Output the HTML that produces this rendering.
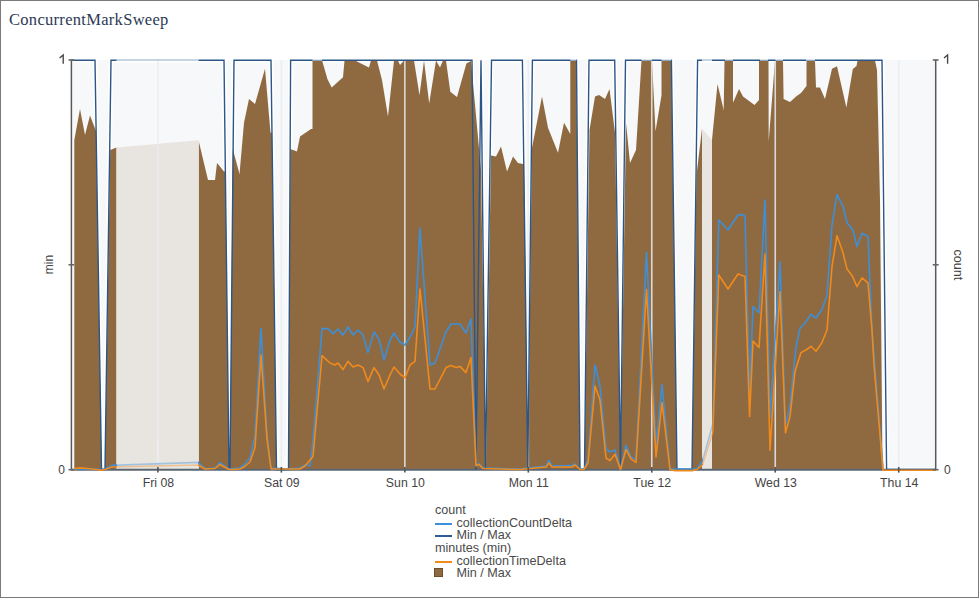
<!DOCTYPE html>
<html><head><meta charset="utf-8">
<style>
html,body{margin:0;padding:0;background:#fff;}
body{width:979px;height:598px;overflow:hidden;position:relative;}
#frame{position:absolute;left:0;top:0;width:977px;height:596px;border:1px solid #7a7a7a;}
#title{position:absolute;left:9px;top:9.5px;font-family:"Liberation Serif",serif;font-size:16.5px;letter-spacing:0.3px;color:#2b3a55;white-space:nowrap;}
svg{position:absolute;left:0;top:0;}
.ax{font-family:"Liberation Sans",sans-serif;font-size:12px;fill:#444;}
#legend{position:absolute;left:435px;top:504px;font-family:"Liberation Sans",sans-serif;font-size:12.6px;line-height:12.65px;color:#4a4a4a;white-space:nowrap;}
#legend .r{position:relative;height:12.65px;}
#legend .ind{padding-left:21.5px;}
#legend .sw{position:absolute;left:0;top:6px;width:17px;height:2px;}
#legend .sq{position:absolute;left:-1px;top:1px;width:7px;height:7px;background:#8f6a41;border:1px solid #6b4d2c;}
</style></head><body>
<div id="frame"></div>
<div id="title">ConcurrentMarkSweep</div>
<svg width="979" height="598" viewBox="0 0 979 598">
<rect x="72" y="60" width="864" height="409.5" fill="#f7f8fa"/>
<polyline points="72.0,60.2 95.0,60.2 101.5,469.5 105.0,469.5 111.0,60.2 224.0,60.2 229.0,469.5 230.0,469.5 234.0,60.2 271.0,60.2 276.5,469.5 288.5,469.5 290.6,60.2 472.0,60.2 476.0,469.5 481.0,60.2 485.5,469.5 491.5,60.2 522.4,60.2 527.8,469.5 532.4,60.2 576.5,60.2 580.0,469.5 584.5,469.5 589.0,60.2 614.7,60.2 620.5,469.5 625.5,60.2 671.4,60.2 677.0,469.5 692.0,469.5 697.6,60.2 882.0,60.2 886.6,469.5 935.0,469.5" fill="none" stroke="#fff" stroke-width="4.5" stroke-linejoin="miter"/>
<path d="M74.3,469.5 L74.3,140.0 L80.0,109.0 L85.0,135.0 L90.0,115.5 L96.0,131.0 L101.5,469.5 Z M105.0,469.5 L110.2,150.0 L116.5,147.5 L116.5,469.5 Z M198.7,469.5 L198.7,141.0 L208.0,180.0 L215.0,180.0 L217.0,163.0 L224.0,171.6 L225.4,171.6 L229.0,469.5 Z M230.0,469.5 L232.8,149.0 L239.5,174.0 L244.0,122.7 L249.0,99.0 L255.0,104.0 L265.0,68.8 L270.5,132.8 L271.9,132.8 L276.5,469.5 Z M288.5,469.5 L290.4,149.0 L297.0,151.6 L300.0,136.5 L311.0,129.0 L312.5,129.0 L312.5,60.5 L322.1,60.5 L327.5,79.2 L331.7,87.6 L343.0,77.2 L344.5,60.5 L355.0,60.5 L369.0,67.5 L371.0,60.5 L377.0,60.5 L382.0,80.0 L388.0,116.5 L394.0,60.5 L398.0,60.5 L400.0,65.0 L404.0,60.5 L414.0,60.5 L419.5,95.2 L424.0,60.5 L429.2,103.5 L436.0,60.5 L440.0,67.5 L443.0,60.5 L446.0,60.5 L450.3,91.8 L457.0,96.9 L466.4,63.4 L471.0,61.0 L481.0,170.0 L486.0,469.5 Z M486.0,469.5 L491.0,155.4 L496.0,156.6 L501.0,146.6 L507.0,171.6 L513.0,156.6 L518.0,162.9 L523.0,164.0 L524.0,164.0 L528.0,469.5 Z M528.0,469.5 L532.0,147.8 L542.0,96.4 L548.0,127.8 L558.0,152.8 L564.0,122.7 L570.3,134.0 L570.3,60.5 L576.3,60.5 L580.0,469.5 Z M584.5,469.5 L589.5,130.0 L595.0,96.4 L599.0,95.0 L605.0,99.0 L609.5,89.0 L615.0,132.8 L620.5,469.5 Z M620.5,469.5 L626.0,122.7 L630.0,163.0 L636.0,150.0 L641.5,60.5 L652.0,60.5 L655.5,131.3 L661.5,95.2 L661.5,60.5 L671.2,60.5 L677.0,469.5 Z M692.0,469.5 L696.5,175.0 L702.0,128.7 L702.0,469.5 Z M712.0,469.5 L712.0,140.0 L717.5,84.0 L723.7,110.0 L724.5,60.5 L733.0,60.5 L733.0,102.7 L739.0,89.0 L743.0,96.4 L754.5,105.0 L759.0,100.0 L759.0,60.5 L768.5,60.5 L768.7,141.5 L775.0,60.5 L783.0,60.5 L783.6,99.0 L790.0,102.0 L796.4,96.3 L801.0,93.0 L806.5,86.0 L806.5,60.5 L815.0,60.5 L816.0,87.6 L820.0,87.6 L825.0,99.0 L832.0,68.8 L837.0,66.3 L846.4,107.5 L852.8,69.0 L856.5,66.0 L857.5,60.5 L875.0,60.5 L877.0,70.0 L880.0,200.0 L882.5,469.5 Z" fill="#8f6a41"/>
<path d="M116.5,469.5 L116.5,147.5 L198.7,140.3 L198.7,469.5 Z M702.0,469.5 L702.0,128.7 L712.0,140.0 L712.0,469.5 Z" fill="#e8e5e1"/>
<line x1="157.9" y1="60" x2="157.9" y2="469.5" stroke="rgba(233,236,241,0.85)" stroke-width="1.6"/>
<line x1="281.37" y1="60" x2="281.37" y2="469.5" stroke="rgba(233,236,241,0.85)" stroke-width="1.6"/>
<line x1="404.84" y1="60" x2="404.84" y2="469.5" stroke="rgba(233,236,241,0.85)" stroke-width="1.6"/>
<line x1="528.31" y1="60" x2="528.31" y2="469.5" stroke="rgba(233,236,241,0.85)" stroke-width="1.6"/>
<line x1="651.78" y1="60" x2="651.78" y2="469.5" stroke="rgba(233,236,241,0.85)" stroke-width="1.6"/>
<line x1="775.25" y1="60" x2="775.25" y2="469.5" stroke="rgba(233,236,241,0.85)" stroke-width="1.6"/>
<line x1="898.72" y1="60" x2="898.72" y2="469.5" stroke="rgba(233,236,241,0.85)" stroke-width="1.6"/>
<line x1="71" y1="469.7" x2="936" y2="469.7" stroke="#5b6673" stroke-width="2"/>
<polyline points="72.0,60.2 95.0,60.2 101.5,469.5 105.0,469.5 111.0,60.2 224.0,60.2 229.0,469.5 230.0,469.5 234.0,60.2 271.0,60.2 276.5,469.5 288.5,469.5 290.6,60.2 472.0,60.2 476.0,469.5 481.0,60.2 485.5,469.5 491.5,60.2 522.4,60.2 527.8,469.5 532.4,60.2 576.5,60.2 580.0,469.5 584.5,469.5 589.0,60.2 614.7,60.2 620.5,469.5 625.5,60.2 671.4,60.2 677.0,469.5 692.0,469.5 697.6,60.2 882.0,60.2 886.6,469.5 935.0,469.5" fill="none" stroke="#2b5687" stroke-width="1.4" stroke-linejoin="miter"/>
<polyline points="74.0,469.0 80.0,468.6 90.0,469.0 101.5,469.5 105.0,469.0 112.0,465.4 198.0,462.4 205.0,468.7 215.0,468.0 220.0,462.7 228.0,468.5 230.0,469.0 240.0,468.0 244.0,465.0 250.0,458.0 255.0,435.5 261.0,328.6 267.0,435.5 271.0,468.0 288.0,469.0 300.0,468.0 305.0,465.0 310.0,465.7 313.0,441.6 322.0,328.6 328.0,328.6 333.0,333.7 338.0,329.0 343.0,335.0 348.0,327.0 353.0,335.0 358.0,330.0 363.0,335.0 368.0,352.6 374.0,332.0 379.0,339.0 384.0,360.0 390.0,340.0 394.0,333.0 400.0,342.0 405.0,345.0 410.0,337.0 415.0,327.0 420.0,228.0 430.0,365.0 435.0,363.0 446.0,332.0 451.0,324.0 460.0,324.0 466.0,333.0 471.0,319.0 476.0,466.0 479.0,463.5 483.0,468.0 520.0,469.0 546.0,466.0 549.0,460.3 552.0,466.0 572.0,465.6 575.0,464.0 580.0,469.0 584.0,469.0 588.0,460.3 595.0,365.0 600.0,386.4 606.0,449.0 610.0,451.8 615.0,450.0 620.5,469.0 626.0,445.4 631.0,457.0 636.0,459.5 646.5,252.6 656.0,445.0 662.0,384.3 670.0,469.0 697.0,469.0 702.7,460.5 712.8,424.0 718.8,220.0 728.0,230.0 738.0,215.0 743.0,214.6 745.0,216.3 749.6,395.0 753.0,306.5 759.0,312.8 765.0,200.0 770.0,417.7 780.0,261.6 785.5,425.4 790.0,405.3 796.0,347.6 800.0,328.0 805.0,323.0 811.0,314.3 816.0,318.0 822.0,309.2 827.0,295.4 832.0,225.2 837.0,194.6 843.0,206.3 847.0,222.7 853.0,230.2 857.0,246.5 862.0,233.2 868.0,236.5 872.0,330.6 875.0,367.6 883.0,469.0" fill="none" stroke="#3d8fd9" stroke-width="1.6" stroke-linejoin="round"/>
<polyline points="74.0,468.6 80.0,467.9 90.0,468.7 101.5,470.3 105.0,469.5 112.0,467.0 198.0,465.0 205.0,469.0 215.0,468.5 220.0,464.5 228.0,469.0 230.0,469.5 240.0,469.0 244.0,467.0 250.0,462.0 255.0,447.6 261.0,355.0 267.0,438.6 271.0,469.0 300.0,469.0 305.0,466.0 313.0,456.6 322.0,355.7 330.0,363.0 335.0,365.0 338.0,363.0 343.0,369.6 348.0,361.4 353.0,367.0 358.0,365.0 363.0,367.6 368.0,381.4 374.0,367.6 379.0,375.0 384.0,389.0 390.0,375.0 394.0,367.0 400.0,374.0 405.0,377.7 410.0,365.0 415.0,361.4 420.0,289.0 430.0,389.0 435.0,389.0 446.0,367.6 451.0,365.6 456.0,367.6 460.0,366.4 466.0,372.6 471.0,357.6 476.0,465.4 479.0,464.5 483.0,468.5 520.0,469.5 546.0,467.0 549.0,463.0 552.0,467.0 572.0,467.0 575.0,465.0 580.0,469.5 584.0,469.5 588.0,463.0 595.0,386.0 600.0,400.0 606.0,458.0 610.0,460.6 615.0,454.2 620.5,469.5 626.0,449.5 631.0,458.9 636.0,462.4 646.5,289.6 656.0,457.0 662.0,402.6 670.0,469.5 675.0,470.6 692.0,470.6 697.0,469.5 702.7,464.5 712.8,432.0 718.8,275.0 728.0,289.0 738.0,274.0 745.0,276.5 749.6,416.5 753.0,341.0 759.0,347.5 765.0,254.0 770.0,450.3 780.0,291.5 785.5,432.9 790.0,416.6 795.0,371.4 801.0,352.6 806.0,350.0 811.0,346.3 816.0,351.3 822.0,342.5 827.0,330.0 832.0,266.6 837.0,235.7 843.0,252.8 847.0,269.0 852.0,275.4 857.0,286.6 862.0,277.9 868.0,282.9 872.0,330.0 874.0,365.0 883.0,470.2 935.0,470.2" fill="none" stroke="#f08a1c" stroke-width="1.6" stroke-linejoin="round"/>
<rect x="117" y="440" width="40" height="28" fill="#e8e5e1" fill-opacity="0.6"/>
<rect x="159" y="440" width="39" height="28" fill="#e8e5e1" fill-opacity="0.6"/>
<rect x="157" y="440" width="2" height="28" fill="#eef0f3" fill-opacity="0.5"/>
<rect x="703" y="415" width="9" height="53" fill="#e8e5e1" fill-opacity="0.6"/>
<line x1="116.5" y1="60" x2="198.7" y2="60" stroke="#c5d3e2" stroke-width="2"/>
<line x1="702" y1="60" x2="712" y2="60" stroke="#c5d3e2" stroke-width="2"/>
<rect x="312.5" y="59.2" width="9.6" height="1.3" fill="#f3f4f6"/>
<rect x="570.3" y="59.2" width="6.0" height="1.3" fill="#f3f4f6"/>
<rect x="641.5" y="59.2" width="10.5" height="1.3" fill="#f3f4f6"/>
<rect x="661.5" y="59.2" width="9.7" height="1.3" fill="#f3f4f6"/>
<rect x="725" y="59.2" width="8.0" height="1.3" fill="#f3f4f6"/>
<rect x="760" y="59.2" width="8.0" height="1.3" fill="#f3f4f6"/>
<rect x="775.5" y="59.2" width="7.5" height="1.3" fill="#f3f4f6"/>
<rect x="806" y="59.2" width="9.0" height="1.3" fill="#f3f4f6"/>
<line x1="71.4" y1="59.5" x2="71.4" y2="470" stroke="#5a5a5a" stroke-width="1.5"/>
<line x1="935.7" y1="59.5" x2="935.7" y2="470" stroke="#5a5a5a" stroke-width="1.5"/>
<line x1="68.5" y1="60" x2="74" y2="60" stroke="#666" stroke-width="1.6"/>
<line x1="932.8" y1="60" x2="938.6" y2="60" stroke="#666" stroke-width="1.6"/>
<line x1="68.5" y1="264.8" x2="74" y2="264.8" stroke="#666" stroke-width="1.6"/>
<line x1="932.8" y1="264.8" x2="938.6" y2="264.8" stroke="#666" stroke-width="1.6"/>
<line x1="68.5" y1="469.7" x2="74" y2="469.7" stroke="#666" stroke-width="1.6"/>
<line x1="932.8" y1="469.7" x2="938.6" y2="469.7" stroke="#666" stroke-width="1.6"/>
<line x1="157.9" y1="467" x2="157.9" y2="472.6" stroke="#555" stroke-width="1.6"/>
<line x1="281.37" y1="467" x2="281.37" y2="472.6" stroke="#555" stroke-width="1.6"/>
<line x1="404.84" y1="467" x2="404.84" y2="472.6" stroke="#555" stroke-width="1.6"/>
<line x1="528.31" y1="467" x2="528.31" y2="472.6" stroke="#555" stroke-width="1.6"/>
<line x1="651.78" y1="467" x2="651.78" y2="472.6" stroke="#555" stroke-width="1.6"/>
<line x1="775.25" y1="467" x2="775.25" y2="472.6" stroke="#555" stroke-width="1.6"/>
<line x1="898.72" y1="467" x2="898.72" y2="472.6" stroke="#555" stroke-width="1.6"/>
<path d="M59.6,57.9 L63.2,54.9 L63.2,63.8" fill="none" stroke="#444" stroke-width="1.35"/>
<text x="65" y="474" text-anchor="end" class="ax">0</text>
<path d="M944.0,57.9 L947.6,54.9 L947.6,63.8" fill="none" stroke="#444" stroke-width="1.35"/>
<text x="944" y="474" class="ax">0</text>
<text transform="translate(52.5,264.5) rotate(-90)" text-anchor="middle" class="ax">min</text>
<text transform="translate(954,264.8) rotate(90)" text-anchor="middle" class="ax" style="font-size:12.6px">count</text>
<text x="158.4" y="486.7" text-anchor="middle" class="ax" style="font-size:12.3px">Fri 08</text>
<text x="281.87" y="486.7" text-anchor="middle" class="ax" style="font-size:12.3px">Sat 09</text>
<text x="405.34" y="486.7" text-anchor="middle" class="ax" style="font-size:12.3px">Sun 10</text>
<text x="528.81" y="486.7" text-anchor="middle" class="ax" style="font-size:12.3px">Mon 11</text>
<text x="652.28" y="486.7" text-anchor="middle" class="ax" style="font-size:12.3px">Tue 12</text>
<text x="775.75" y="486.7" text-anchor="middle" class="ax" style="font-size:12.3px">Wed 13</text>
<text x="899.22" y="486.7" text-anchor="middle" class="ax" style="font-size:12.3px">Thu 14</text>
</svg>
<div id="legend">
<div class="r">count</div>
<div class="r ind"><span class="sw" style="background:#3d8fd9"></span>collectionCountDelta</div>
<div class="r ind"><span class="sw" style="background:#2f5d91"></span>Min / Max</div>
<div class="r">minutes (min)</div>
<div class="r ind"><span class="sw" style="background:#f08a1c"></span>collectionTimeDelta</div>
<div class="r ind"><span class="sq"></span>Min / Max</div>
</div>
</body></html>
